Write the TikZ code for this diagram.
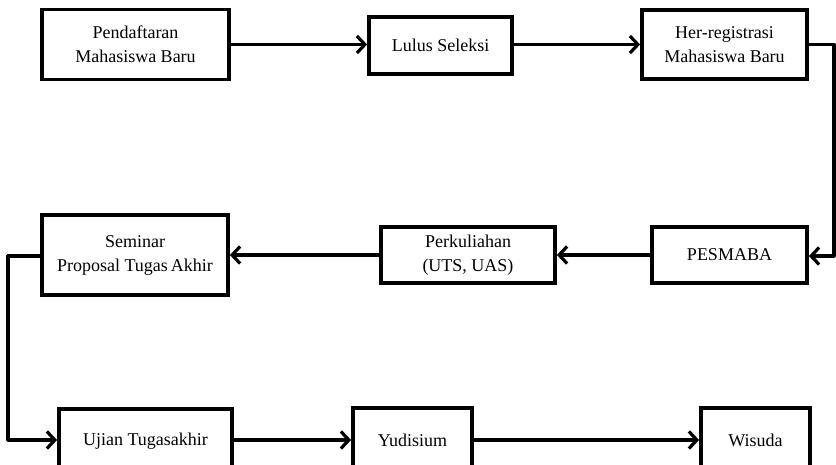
\documentclass[tikz,border=0pt]{standalone}
\usepackage{fontspec}
\setmainfont{Liberation Serif}
\usetikzlibrary{arrows.meta}
\begin{document}
\begin{tikzpicture}[x=1pt,y=-1pt,
  box/.style={draw=black,line width=3.8pt,rectangle,inner sep=2pt,align=center,
    font=\fontsize{18}{24}\selectfont},
  conn/.style={line width=3.2pt,-{Straight Barb[length=8pt,width=17pt,line width=3.2pt]}}]
\useasboundingbox (0,0) rectangle (836,464);
\clip (0,0) rectangle (836,464);
\node[box,minimum width=187pt,minimum height=70pt] (b1) at (135.5,44.5) {Pendaftaran\\Mahasiswa Baru};
\node[box,minimum width=143pt,minimum height=57pt] (b2) at (440.5,45.5) {Lulus Seleksi};
\node[box,minimum width=165pt,minimum height=69pt] (b3) at (724.5,44.5) {Her-registrasi\\Mahasiswa Baru};
\node[box,minimum width=186pt,minimum height=80pt] (b4) at (135,255) {Seminar\\Proposal Tugas\,Akhir};
\node[box,minimum width=174pt,minimum height=56pt] (b5) at (468,255) {Perkuliahan\\(UTS, UAS)};
\node[box,minimum width=155pt,minimum height=56pt] (b6) at (729.5,255) {PESMABA};
\node[box,minimum width=173pt,minimum height=64pt] (b7) at (145.5,441) {Ujian Tugasakhir};
\node[box,minimum width=119pt,minimum height=64pt] (b8) at (412.5,440) {Yudisium};
\node[box,minimum width=109pt,minimum height=64pt] (b9) at (755.5,440) {Wisuda};
\coordinate (r1) at (834,44.5);
\coordinate (r2) at (834,256);
\coordinate (l1) at (8,256);
\coordinate (l2) at (8,440);
\draw[conn] (b1.east) -- (b1.east -| b2.west);
\draw[conn] (b2.east |- b3.west) -- (b3.west);
\draw[conn,line join=round] (b3.east) -- (r1) -- (r2) -- (r2 -| b6.east);
\draw[conn] (b6.west) -- (b5.east);
\draw[conn] (b5.west) -- (b4.east);
\draw[conn,line join=round] (l1 -| b4.west) -- (l1) -- (l2) -- (l2 -| b7.west);
\draw[conn] (b7.east |- b8.west) -- (b8.west);
\draw[conn] (b8.east) -- (b9.west);
\end{tikzpicture}
\end{document}
